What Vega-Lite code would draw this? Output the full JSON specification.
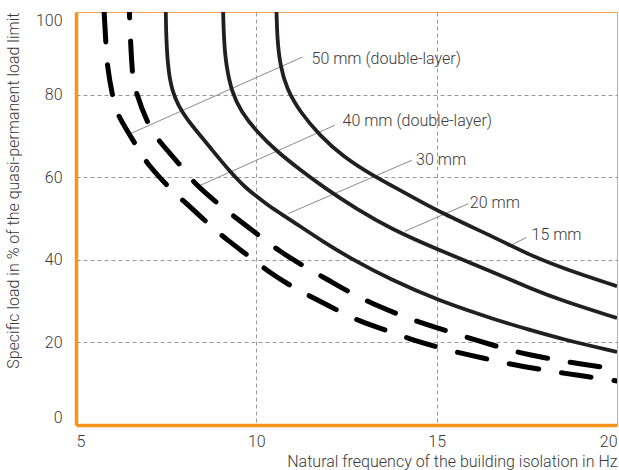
{
  "$schema": "https://vega.github.io/schema/vega-lite/v6.json",
  "width": 541,
  "height": 413,
  "autosize": "none",
  "padding": {"left": 76, "top": 12, "right": 2, "bottom": 45},
  "background": "white",
  "config": {
    "view": {"stroke": "#F5A552", "strokeWidth": 1},
    "font": "Roboto",
    "axis": {
      "ticks": false,
      "tickSize": 0,
      "labelFlush": true,
      "labelFont": "Roboto",
      "labelFontSize": 16,
      "labelFontWeight": 300,
      "labelColor": "#3a3a3a",
      "titleFont": "Roboto",
      "titleFontSize": 16,
      "titleFontWeight": 300,
      "titleColor": "#3a3a3a",
      "domainColor": "#F7941D",
      "domainWidth": 3.5,
      "gridColor": "#999999",
      "gridDash": [4, 3],
      "gridWidth": 1
    }
  },
  "datasets": {
    "solid": [
      {"series": "30 mm", "f": 7.49, "load": 100},
      {"series": "30 mm", "f": 7.5, "load": 93.5},
      {"series": "30 mm", "f": 7.56, "load": 85.4},
      {"series": "30 mm", "f": 7.68, "load": 80.5},
      {"series": "30 mm", "f": 7.85, "load": 77.2},
      {"series": "30 mm", "f": 8.05, "load": 74.4},
      {"series": "30 mm", "f": 8.35, "load": 71.1},
      {"series": "30 mm", "f": 8.71, "load": 67.3},
      {"series": "30 mm", "f": 9.27, "load": 61.3},
      {"series": "30 mm", "f": 9.73, "load": 57.2},
      {"series": "30 mm", "f": 10.02, "load": 55.3},
      {"series": "30 mm", "f": 10.38, "load": 52.8},
      {"series": "30 mm", "f": 10.93, "load": 49.8},
      {"series": "30 mm", "f": 11.86, "load": 44.3},
      {"series": "30 mm", "f": 12.78, "load": 39.5},
      {"series": "30 mm", "f": 13.71, "load": 35.3},
      {"series": "30 mm", "f": 15.02, "load": 30.2},
      {"series": "30 mm", "f": 16.66, "load": 25.4},
      {"series": "30 mm", "f": 17.59, "load": 23.0},
      {"series": "30 mm", "f": 18.51, "load": 20.7},
      {"series": "30 mm", "f": 20, "load": 17.7},
      {"series": "20 mm", "f": 9.08, "load": 100},
      {"series": "20 mm", "f": 9.1, "load": 93.5},
      {"series": "20 mm", "f": 9.16, "load": 87.1},
      {"series": "20 mm", "f": 9.32, "load": 80.6},
      {"series": "20 mm", "f": 9.57, "load": 76.0},
      {"series": "20 mm", "f": 10.01, "load": 71.0},
      {"series": "20 mm", "f": 10.56, "load": 66.3},
      {"series": "20 mm", "f": 11.21, "load": 61.8},
      {"series": "20 mm", "f": 11.86, "load": 57.6},
      {"series": "20 mm", "f": 12.78, "load": 52.3},
      {"series": "20 mm", "f": 13.71, "load": 47.6},
      {"series": "20 mm", "f": 15.02, "load": 42.5},
      {"series": "20 mm", "f": 16.66, "load": 36.7},
      {"series": "20 mm", "f": 17.59, "load": 33.1},
      {"series": "20 mm", "f": 18.51, "load": 30.0},
      {"series": "20 mm", "f": 20, "load": 25.9},
      {"series": "15 mm", "f": 10.56, "load": 100},
      {"series": "15 mm", "f": 10.58, "load": 93.5},
      {"series": "15 mm", "f": 10.66, "load": 87.1},
      {"series": "15 mm", "f": 10.84, "load": 81.4},
      {"series": "15 mm", "f": 11.21, "load": 75.8},
      {"series": "15 mm", "f": 11.76, "load": 70.1},
      {"series": "15 mm", "f": 12.4, "load": 65.0},
      {"series": "15 mm", "f": 13.24, "load": 60.3},
      {"series": "15 mm", "f": 14.17, "load": 56.0},
      {"series": "15 mm", "f": 15.02, "load": 51.8},
      {"series": "15 mm", "f": 16.66, "load": 45.2},
      {"series": "15 mm", "f": 17.59, "load": 41.1},
      {"series": "15 mm", "f": 18.51, "load": 37.9},
      {"series": "15 mm", "f": 20, "load": 33.6}
    ],
    "dashed50": [
      {"series": "50 mm (double-layer)", "f": 5.78, "load": 100},
      {"series": "50 mm (double-layer)", "f": 5.83, "load": 92.3},
      {"series": "50 mm (double-layer)", "f": 5.86, "load": 87.1},
      {"series": "50 mm (double-layer)", "f": 6.03, "load": 78.6},
      {"series": "50 mm (double-layer)", "f": 6.17, "load": 74.6},
      {"series": "50 mm (double-layer)", "f": 6.73, "load": 66.9},
      {"series": "50 mm (double-layer)", "f": 6.96, "load": 63.3},
      {"series": "50 mm (double-layer)", "f": 7.65, "load": 56.8},
      {"series": "50 mm (double-layer)", "f": 8.02, "load": 54.0},
      {"series": "50 mm (double-layer)", "f": 8.76, "load": 48.0},
      {"series": "50 mm (double-layer)", "f": 9.13, "load": 45.2},
      {"series": "50 mm (double-layer)", "f": 9.96, "load": 39.8},
      {"series": "50 mm (double-layer)", "f": 10.33, "load": 37.1},
      {"series": "50 mm (double-layer)", "f": 11.16, "load": 32.6},
      {"series": "50 mm (double-layer)", "f": 11.63, "load": 30.6},
      {"series": "50 mm (double-layer)", "f": 12.5, "load": 26.6},
      {"series": "50 mm (double-layer)", "f": 12.97, "load": 24.8},
      {"series": "50 mm (double-layer)", "f": 13.94, "load": 21.9},
      {"series": "50 mm (double-layer)", "f": 14.4, "load": 20.4},
      {"series": "50 mm (double-layer)", "f": 15.37, "load": 18.0},
      {"series": "50 mm (double-layer)", "f": 15.83, "load": 17.1},
      {"series": "50 mm (double-layer)", "f": 16.85, "load": 15.1},
      {"series": "50 mm (double-layer)", "f": 17.31, "load": 14.3},
      {"series": "50 mm (double-layer)", "f": 18.33, "load": 12.8},
      {"series": "50 mm (double-layer)", "f": 18.79, "load": 12.2},
      {"series": "50 mm (double-layer)", "f": 19.8, "load": 10.9},
      {"series": "50 mm (double-layer)", "f": 20, "load": 10.65}
    ],
    "dashed40": [
      {"series": "40 mm (double-layer)", "f": 6.48, "load": 100},
      {"series": "40 mm (double-layer)", "f": 6.55, "load": 85.1},
      {"series": "40 mm (double-layer)", "f": 6.64, "load": 81.0},
      {"series": "40 mm (double-layer)", "f": 7.0, "load": 72.6},
      {"series": "40 mm (double-layer)", "f": 7.27, "load": 69.0},
      {"series": "40 mm (double-layer)", "f": 7.94, "load": 62.5},
      {"series": "40 mm (double-layer)", "f": 8.24, "load": 58.8},
      {"series": "40 mm (double-layer)", "f": 8.99, "load": 53.2},
      {"series": "40 mm (double-layer)", "f": 9.41, "load": 50.3},
      {"series": "40 mm (double-layer)", "f": 10.18, "load": 45.2},
      {"series": "40 mm (double-layer)", "f": 10.6, "load": 42.3},
      {"series": "40 mm (double-layer)", "f": 11.4, "load": 38.0},
      {"series": "40 mm (double-layer)", "f": 11.9, "load": 35.6},
      {"series": "40 mm (double-layer)", "f": 12.73, "load": 31.4},
      {"series": "40 mm (double-layer)", "f": 13.2, "load": 29.5},
      {"series": "40 mm (double-layer)", "f": 14.12, "load": 26.1},
      {"series": "40 mm (double-layer)", "f": 14.59, "load": 24.7},
      {"series": "40 mm (double-layer)", "f": 15.56, "load": 22.0},
      {"series": "40 mm (double-layer)", "f": 16.0, "load": 20.8},
      {"series": "40 mm (double-layer)", "f": 17.03, "load": 18.1},
      {"series": "40 mm (double-layer)", "f": 17.5, "load": 17.1},
      {"series": "40 mm (double-layer)", "f": 18.47, "load": 15.5},
      {"series": "40 mm (double-layer)", "f": 18.97, "load": 14.8},
      {"series": "40 mm (double-layer)", "f": 20, "load": 13.5}
    ],
    "leaders": [
      {"f": 6.5, "load": 70.5, "f2": 11.28, "load2": 89.1},
      {"f": 8.44, "load": 58.0, "f2": 12.18, "load2": 72.6},
      {"f": 10.89, "load": 51.2, "f2": 14.31, "load2": 64.1},
      {"f": 14.12, "load": 46.9, "f2": 15.88, "load2": 53.6},
      {"f": 17.03, "load": 43.4, "f2": 17.49, "load2": 45.4}
    ],
    "labels": [
      {"f": 11.53, "load": 88.7, "label": "50 mm (double-layer)"},
      {"f": 12.39, "load": 73.6, "label": "40 mm (double-layer)"},
      {"f": 14.43, "load": 64.1, "label": "30 mm"},
      {"f": 15.92, "load": 53.8, "label": "20 mm"},
      {"f": 17.63, "load": 45.9, "label": "15 mm"}
    ]
  },
  "encoding": {
    "x": {
      "field": "f",
      "type": "quantitative",
      "scale": {"domain": [5, 20], "nice": false, "zero": false},
      "axis": {
        "values": [5, 10, 15, 20],
        "title": "Natural frequency of the building isolation in Hz",
        "titleAnchor": "end",
        "titleAlign": "right",
        "titleBaseline": "alphabetic",
        "titleX": 541,
        "titleY": 41,
        "labelPadding": 8,
        "gridOpacity": {"condition": {"test": "datum.value === 5 || datum.value === 20", "value": 0}, "value": 1}
      }
    },
    "y": {
      "field": "load",
      "type": "quantitative",
      "scale": {"domain": [0, 100], "nice": false},
      "axis": {
        "values": [0, 20, 40, 60, 80, 100],
        "title": "Specific load in % of the quasi-permanent load limit",
        "titleAnchor": "end",
        "titleAngle": -90,
        "titleAlign": "right",
        "titleBaseline": "alphabetic",
        "titleX": -58,
        "titleY": 0,
        "labelPadding": 14,
        "gridOpacity": {"condition": {"test": "datum.value === 0 || datum.value === 100", "value": 0}, "value": 1}
      }
    }
  },
  "layer": [
    {
      "data": {"name": "leaders"},
      "mark": {"type": "rule", "color": "#8a8a8a", "strokeWidth": 1},
      "encoding": {
        "x2": {"field": "f2"},
        "y2": {"field": "load2"}
      }
    },
    {
      "data": {"name": "solid"},
      "mark": {"type": "line", "interpolate": "basis", "strokeWidth": 3.8, "color": "#231f20", "clip": true},
      "encoding": {"detail": {"field": "series", "type": "nominal"}}
    },
    {
      "data": {"name": "dashed50"},
      "mark": {"type": "line", "interpolate": "basis", "strokeWidth": 5, "color": "#000000", "strokeDash": [30, 23], "strokeCap": "round", "strokeDashOffset": 0, "clip": true},
      "encoding": {"detail": {"field": "series", "type": "nominal"}}
    },
    {
      "data": {"name": "dashed40"},
      "mark": {"type": "line", "interpolate": "basis", "strokeWidth": 5, "color": "#000000", "strokeDash": [30, 23], "strokeCap": "round", "strokeDashOffset": 24, "clip": true},
      "encoding": {"detail": {"field": "series", "type": "nominal"}}
    },
    {
      "data": {"name": "labels"},
      "mark": {"type": "text", "align": "left", "baseline": "middle", "font": "Roboto", "fontSize": 16, "fontWeight": 300, "color": "#3a3a3a"},
      "encoding": {"text": {"field": "label", "type": "nominal"}}
    }
  ]
}
